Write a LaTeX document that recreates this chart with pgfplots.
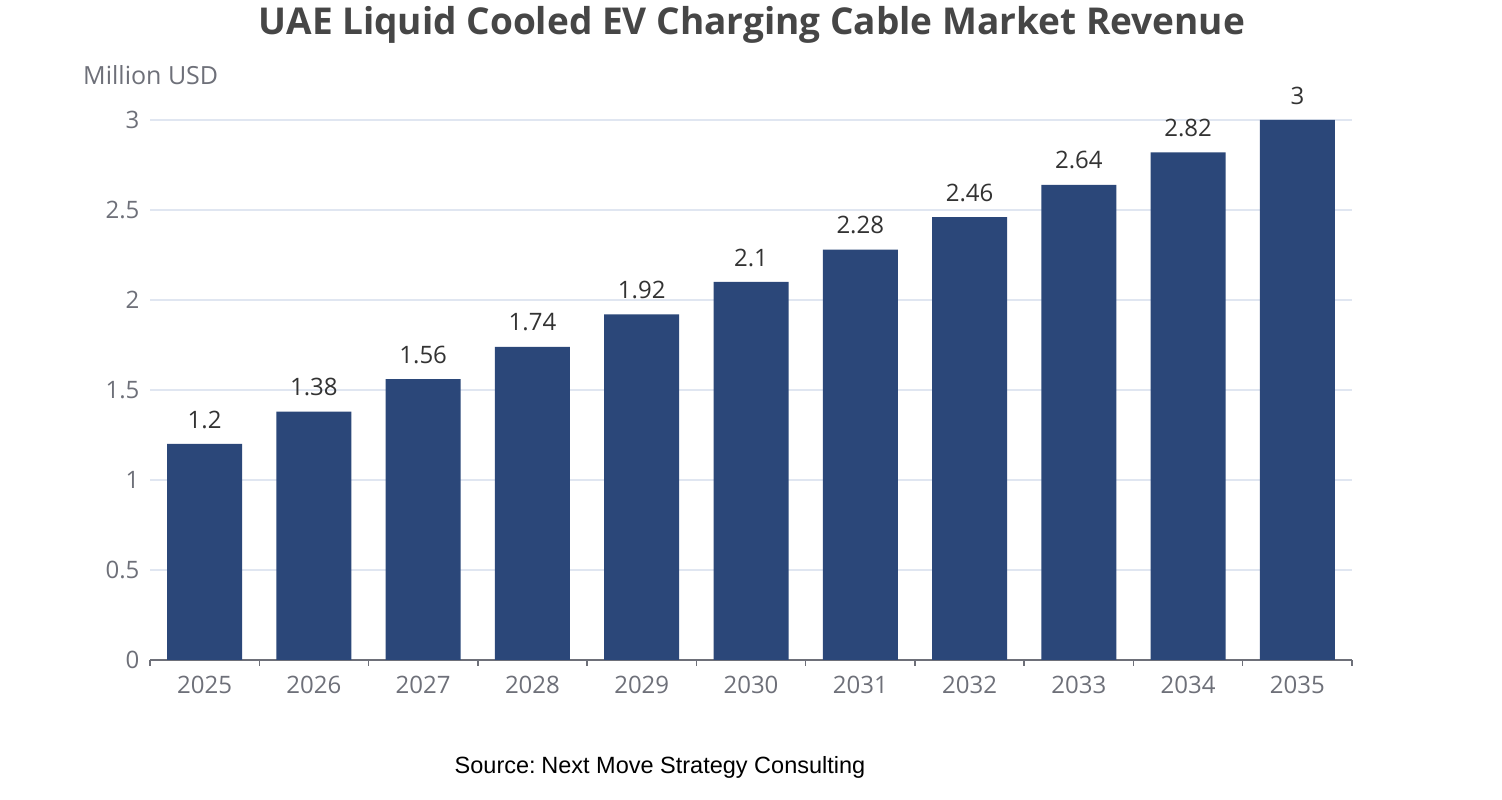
\documentclass[border=0pt]{standalone}
\usepackage{pgfplots}
\pgfplotsset{compat=1.18}
\usepackage{fontspec}
\setmainfont{Open Sans}
\newfontfamily\srcfont{Liberation Sans}
\definecolor{barc}{HTML}{2B4779}
\definecolor{gridc}{HTML}{E0E6F1}
\definecolor{axc}{HTML}{6E7079}
\definecolor{titc}{HTML}{464646}
\definecolor{labc}{HTML}{333333}
\begin{document}
\begin{tikzpicture}[x=1pt,y=1pt]
\path[use as bounding box, fill=white] (0,0) rectangle (1502,800);
\node[font=\fontsize{37}{44}\selectfont\bfseries, text=titc] at (752,775) {UAE Liquid Cooled EV Charging Cable Market Revenue};
\node[font=\fontsize{25}{30}\selectfont, text=axc, anchor=west, inner sep=0pt] at (83,725) {Million USD};
\node[font=\srcfont\fontsize{23.5}{28}\selectfont, text=black] at (660,33) {Source:\kern-3pt{} Next Move Strategy Consulting};
\begin{axis}[
  at={(150pt,140pt)}, anchor=south west,
  scale only axis, width=1202pt, height=540pt,
  xmin=-0.5, xmax=10.5, ymin=0, ymax=3,
  ytick={0,0.5,1,1.5,2,2.5,3},
  yticklabels={0,0.5,1,1.5,2,2.5,3},
  xtick={0,...,10},
  xticklabels={2025,2026,2027,2028,2029,2030,2031,2032,2033,2034,2035},
  extra x ticks={-0.5,0.5,1.5,2.5,3.5,4.5,5.5,6.5,7.5,8.5,9.5,10.5},
  extra x tick labels={},
  extra x tick style={major tick length=6pt, tick style={draw=axc, line width=1.5pt}, tick align=outside, grid=none},
  major tick length=0pt,
  axis x line*=bottom, axis y line*=left,
  x axis line style={draw=axc, line width=1.5pt, -},
  y axis line style={draw=none},
  ymajorgrids, grid style={draw=gridc, line width=1.2pt},
  ticklabel style={font=\fontsize{24}{28}\selectfont, text=axc},
  xticklabel style={yshift=-13pt},
  yticklabel style={xshift=-7pt},
  clip=false,
  nodes near coords,
  nodes near coords style={font=\fontsize{24}{28}\selectfont, text=labc, yshift=12pt},
  point meta=explicit symbolic,
]
\addplot[ybar, bar width=75pt, fill=barc, draw=none] coordinates {
(0,1.2) [1.2]
(1,1.38) [1.38]
(2,1.56) [1.56]
(3,1.74) [1.74]
(4,1.92) [1.92]
(5,2.1) [2.1]
(6,2.28) [2.28]
(7,2.46) [2.46]
(8,2.64) [2.64]
(9,2.82) [2.82]
(10,3) [3]
};
\end{axis}
\end{tikzpicture}
\end{document}
